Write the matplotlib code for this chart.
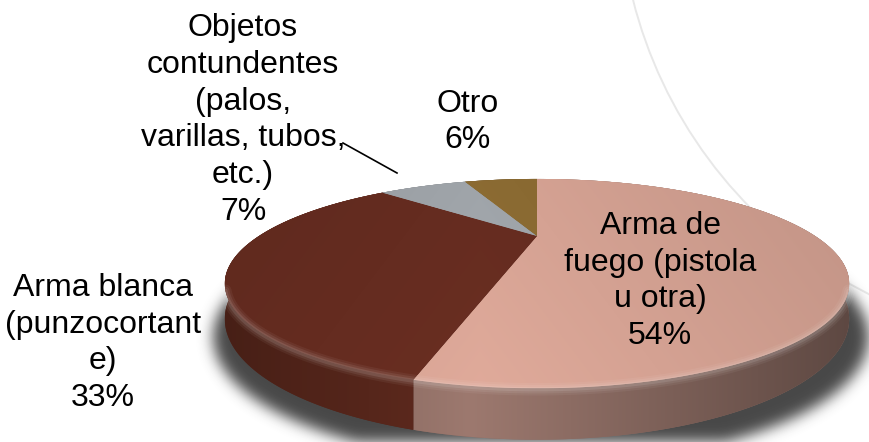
import numpy as np
import matplotlib
matplotlib.use("Agg")
import matplotlib.pyplot as plt
from matplotlib.path import Path
from matplotlib.patches import PathPatch, Arc

plt.rcParams["font.family"] = ["Liberation Sans", "DejaVu Sans"]

# datos del gráfico
categorias = ["Arma de\nfuego (pistola\nu otra)",
              "Arma blanca\n(punzocortant\ne)",
              "Objetos\ncontundentes\n(palos,\nvarillas, tubos,\netc.)",
              "Otro"]
porcentajes = [54, 33, 7, 6]
color_sup = ["#d5a293", "#652c20", "#9ea3a8", "#8a6a32"]
color_lado = ["#8c6c63", "#56261b", "#6e7276", "#5e4822"]
pos_etiqueta = [(660, 281), (103, 343), (243, 120), (468, 122)]

W, H = 869, 442
CX, CY = 537, 236          # centro del pastel proyectado
RX, RY, K, TH = 278, 83, 0.455, 28


def borde(t, z=0.0):
    X, Y = np.cos(t), np.sin(t)
    w = 1 + K * Y
    return CX + RX * X / w, CY - (RY * Y + TH * z) / w


def relleno_gradiente(ax, verts, func, zorder):
    path = Path(np.vstack([verts, verts[:1]]), closed=True)
    patch = PathPatch(path, facecolor="none", edgecolor="none")
    ax.add_patch(patch)
    x0, y0 = verts.min(0)
    x1, y1 = verts.max(0)
    nx, ny = int(x1 - x0) + 2, int(y1 - y0) + 2
    xx, yy = np.meshgrid(np.linspace(x0, x1, nx), np.linspace(y0, y1, ny))
    rgb = np.clip(func(xx, yy), 0, 1)
    im = ax.imshow(rgb, extent=(x0, x1, y1, y0), origin="upper",
                   zorder=zorder, interpolation="bilinear", aspect="auto")
    im.set_clip_path(patch)


def hex_rgb(c):
    return np.array(matplotlib.colors.to_rgb(c))


fig = plt.figure(figsize=(W / 100, H / 100), dpi=100)
ax = fig.add_axes([0, 0, 1, 1])

# arco decorativo de fondo
ax.add_patch(Arc((1074, -112), 910, 910, theta1=90, theta2=270,
                 color="#e8e8e8", lw=1.4, zorder=0))

# sombra difusa bajo el pastel
tt = np.linspace(0, 2 * np.pi, 400)
bx, by = borde(tt, -1)
sx = CX + 4 + (bx - CX) * 1.05
sy = CY + (by - CY) * 1.05 + 14
gx, gy = np.meshgrid(np.arange(W) + 0.5, np.arange(H) + 0.5)
mask = Path(np.c_[sx, sy]).contains_points(np.c_[gx.ravel(), gy.ravel()])
mask = mask.reshape(H, W).astype(float)
sig = 7
k = np.exp(-0.5 * (np.arange(-3 * sig, 3 * sig + 1) / sig) ** 2)
k /= k.sum()
mask = np.apply_along_axis(lambda r: np.convolve(r, k, mode="same"), 1, mask)
mask = np.apply_along_axis(lambda c: np.convolve(c, k, mode="same"), 0, mask)
sombra = np.zeros((H, W, 4))
sombra[..., :3] = 0.2
sombra[..., 3] = mask * 0.9
ax.imshow(sombra, extent=(0, W, H, 0), zorder=1, interpolation="bilinear")

fr = np.array(porcentajes) / sum(porcentajes)
lim = 90 - 360 * np.concatenate([[0], np.cumsum(fr)])

for i in range(len(porcentajes)):
    t = np.radians(np.linspace(lim[i], lim[i + 1], 200))
    xt, yt = borde(t, 0)
    xb, yb = borde(t, -1)

    # cara lateral
    lado = np.vstack([np.c_[xt, yt], np.c_[xb[::-1], yb[::-1]]])
    base = hex_rgb(color_lado[i])

    def f_lado(xx, yy, base=base):
        d = np.abs(xx - 470) / 380
        br = 1.12 - 0.45 * d
        return base[None, None, :] * br[..., None]

    relleno_gradiente(ax, lado, f_lado, 2)
    ax.fill(lado[:, 0], lado[:, 1], color=color_lado[i], zorder=1.9, lw=0)

    # cara superior
    sup = np.vstack([[CX, CY], np.c_[xt, yt]])
    bs = hex_rgb(color_sup[i])

    def f_sup(xx, yy, bs=bs):
        d = np.abs(xx - 480) / 380
        br = 1.02 - 0.1 * d + 0.03 * (yy - CY) / 150
        return bs[None, None, :] * br[..., None]

    ax.fill(sup[:, 0], sup[:, 1], color=color_sup[i], zorder=2.9, lw=0)
    relleno_gradiente(ax, sup, f_sup, 3)

# brillo del bisel en el borde frontal
tf = np.radians(np.linspace(-150, -30, 300))
fx, fy = borde(tf, 0)
for lw, a in [(9, 0.05), (6, 0.07), (3, 0.1)]:
    ax.plot(fx, fy + 1, color="white", lw=lw, alpha=a, zorder=3.5,
            solid_capstyle="round")

# etiquetas
for txt, p, (x, y) in zip(categorias, porcentajes, pos_etiqueta):
    ax.text(x, y, f"{txt}\n{p}%", ha="center", va="center", fontsize=23,
            linespacing=1.3, color="black", zorder=5)

ax.plot([343, 397], [143, 173], color="black", lw=1.2, zorder=5)

ax.set_xlim(0, W)
ax.set_ylim(H, 0)
ax.axis("off")
fig.savefig("out.png", dpi=100)
